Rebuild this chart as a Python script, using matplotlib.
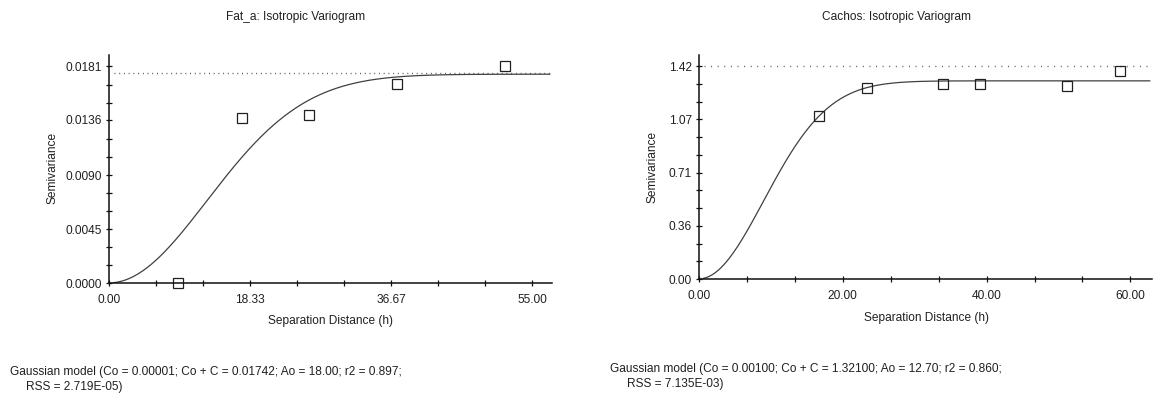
import matplotlib
matplotlib.use("Agg")
import matplotlib.pyplot as plt
import numpy as np

plt.rcParams['font.family'] = ['Liberation Sans', 'DejaVu Sans']
plt.rcParams['font.size'] = 8.6

# Fat_a variogram
fat_lag = [8.95, 17.3, 26.0, 37.4, 51.5]
fat_semi = [0.0, 0.01373, 0.01401, 0.01660, 0.0181]
fat_c0, fat_sill, fat_a0 = 0.00001, 0.01742, 18.00
fat_var = 0.01755
fat_xticks = [0.0, 18.33, 36.67, 55.0]
fat_yticks = [0.0, 0.0045, 0.0090, 0.0136, 0.0181]
fat_xtl = ['0.00', '18.33', '36.67', '55.00']
fat_ytl = ['0.0000', '0.0045', '0.0090', '0.0136', '0.0181']
fat_info = ("Gaussian model (Co = 0.00001; Co + C = 0.01742; Ao = 18.00; r2 = 0.897;",
            "RSS = 2.719E-05)")

# Cachos variogram
cac_lag = [16.7, 23.3, 34.0, 39.1, 51.2, 58.6]
cac_semi = [1.087, 1.271, 1.302, 1.302, 1.289, 1.389]
cac_c0, cac_sill, cac_a0 = 0.00100, 1.32100, 12.70
cac_var = 1.418
cac_xticks = [0.0, 20.0, 40.0, 60.0]
cac_yticks = [0.0, 0.355, 0.71, 1.065, 1.42]
cac_xtl = ['0.00', '20.00', '40.00', '60.00']
cac_ytl = ['0.00', '0.36', '0.71', '1.07', '1.42']
cac_info = ("Gaussian model (Co = 0.00100; Co + C = 1.32100; Ao = 12.70; r2 = 0.860;",
            "RSS = 7.135E-03)")

W, H = 1154, 394
fig = plt.figure(figsize=(W / 100, H / 100), dpi=100)


def panel(rect, lag, semi, c0, sill, a0, var, xt, yt, xtl, ytl, xmax, ymax, dot_gap):
    ax = fig.add_axes(rect)
    h = np.linspace(0.6, xmax * 0.995, 300)
    gam = c0 + (sill - c0) * (1 - np.exp(-(h / a0) ** 2))
    ax.plot(h, gam, color='#404040', lw=0.9)
    ax.axhline(var, xmin=0.012, xmax=0.998, color='#555555', lw=1.0,
               dashes=(0.7, dot_gap))
    ax.plot(lag, semi, 's', ms=7.2, mfc='none', mec='#202020', mew=0.9,
            clip_on=False)
    ax.set_xlim(0, xmax)
    ax.set_ylim(0, ymax)
    ax.set_xticks(xt)
    ax.set_xticklabels(xtl)
    ax.set_yticks(yt)
    ax.set_yticklabels(ytl)
    ax.set_xticks([xt[0] + (xt[1] - xt[0]) * k / 3 for k in range(3 * (len(xt) - 1) + 1)
                   if k % 3], minor=True)
    ax.set_yticks([yt[0] + (yt[1] - yt[0]) * k / 3 for k in range(3 * (len(yt) - 1) + 1)
                   if k % 3], minor=True)
    for s in ['top', 'right']:
        ax.spines[s].set_visible(False)
    for s in ['left', 'bottom']:
        ax.spines[s].set_linewidth(1.1)
        ax.spines[s].set_color('#101010')
    ax.tick_params(which='both', direction='inout', length=5, width=0.9,
                   color='#101010', labelcolor='#202020')
    ax.tick_params(axis='y', pad=2.5)
    ax.tick_params(axis='x', pad=5.5)
    return ax


panel([109 / W, 1 - 283 / H, (552 - 109) / W, (283 - 55) / H],
      fat_lag, fat_semi, fat_c0, fat_sill, fat_a0, fat_var,
      fat_xticks, fat_yticks, fat_xtl, fat_ytl, 57.6, 0.01902, 2.7)
panel([699 / W, 1 - 279 / H, (1152 - 699) / W, (279 - 55) / H],
      cac_lag, cac_semi, cac_c0, cac_sill, cac_a0, cac_var,
      cac_xticks, cac_yticks, cac_xtl, cac_ytl, 63.0, 1.4934, 4.05)

tc = '#202020'
fig.text(296 / W, 1 - 17 / H, 'Fat_a: Isotropic Variogram', ha='center', va='center', color=tc)
fig.text(896 / W, 1 - 17 / H, 'Cachos: Isotropic Variogram', ha='center', va='center', color=tc)
fig.text(331 / W, 1 - 321 / H, 'Separation Distance (h)', ha='center', va='center', color=tc)
fig.text(926 / W, 1 - 318 / H, 'Separation Distance (h)', ha='center', va='center', color=tc)
fig.text(52 / W, 1 - 168 / H, 'Semivariance', ha='center', va='center', rotation=90, color=tc)
fig.text(653 / W, 1 - 167 / H, 'Semivariance', ha='center', va='center', rotation=90, color=tc)
fig.text(10 / W, 1 - 372 / H, fat_info[0], ha='left', va='center', color=tc)
fig.text(26 / W, 1 - 387 / H, fat_info[1], ha='left', va='center', color=tc)
fig.text(610 / W, 1 - 369 / H, cac_info[0], ha='left', va='center', color=tc)
fig.text(627 / W, 1 - 384 / H, cac_info[1], ha='left', va='center', color=tc)

fig.savefig('out.png', dpi=100)
